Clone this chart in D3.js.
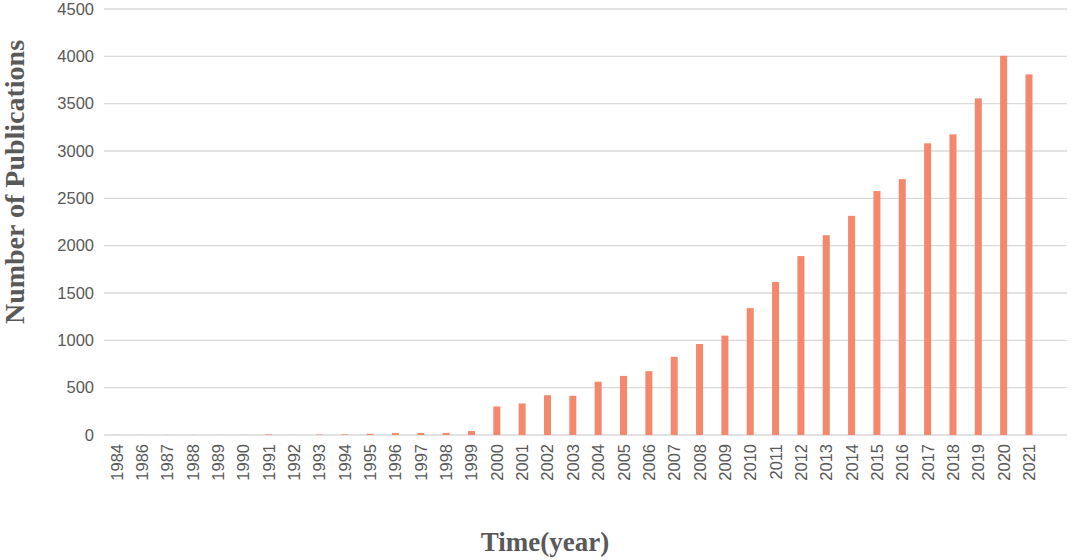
<!DOCTYPE html>
<html>
<head>
<meta charset="utf-8">
<script src="https://cdn.jsdelivr.net/npm/d3@7"></script>
<style>
  body { margin: 0; background: #fff; }
</style>
</head>
<body>
<div id="Barchart-div"></div>
<script>
// data
const years = ['1984', '1986', '1987', '1988', '1989', '1990', '1991', '1992', '1993', '1994',
  '1995', '1996', '1997', '1998', '1999', '2000', '2001', '2002', '2003', '2004',
  '2005', '2006', '2007', '2008', '2009', '2010', '2011', '2012', '2013', '2014',
  '2015', '2016', '2017', '2018', '2019', '2020', '2021'];
const publications = [1, 1, 1, 1, 1, 1, 6, 1, 5, 6,
  13, 20, 21, 22, 42, 301, 333, 420, 414, 563,
  624, 674, 826, 961, 1050, 1340, 1617, 1890, 2110, 2315,
  2577, 2703, 3081, 3176, 3556, 4006, 3809];
const yTicks = [0, 500, 1000, 1500, 2000, 2500, 3000, 3500, 4000, 4500];

const CHART_WIDTH = 1072;
const CHART_HEIGHT = 560;
const MARGIN = { left: 104, right: 5, top: 9, bottom: 125 };
const BAR_WIDTH = 7;

const data = years.map((y, i) => ({ year: y, value: publications[i] }));

const svg = d3.select('#Barchart-div')
  .append('svg')
  .attr('width', CHART_WIDTH)
  .attr('height', CHART_HEIGHT);

const plotRight = CHART_WIDTH - MARGIN.right;
const plotBottom = CHART_HEIGHT - MARGIN.bottom;

// one empty slot is left at the right end of the axis, like the original
const step = (plotRight - MARGIN.left) / (years.length + 1);

const xScale = d3.scaleBand()
  .domain(years)
  .range([MARGIN.left, MARGIN.left + step * years.length])
  .padding(0);

const yScale = d3.scaleLinear()
  .domain([0, 4500])
  .range([plotBottom, MARGIN.top]);

// gridlines
svg.append('g')
  .attr('id', 'grid')
  .selectAll('line')
  .data(yTicks)
  .join('line')
  .attr('x1', MARGIN.left)
  .attr('x2', plotRight)
  .attr('y1', d => yScale(d))
  .attr('y2', d => yScale(d))
  .attr('stroke', '#d9d9d9')
  .attr('stroke-width', 1.3);

// y axis labels
const yAxis = svg.append('g')
  .attr('id', 'Barchart-y-axis')
  .attr('transform', `translate(${MARGIN.left - 10},0)`)
  .call(d3.axisLeft(yScale).tickValues(yTicks).tickFormat(d3.format('d')).tickSize(0).tickPadding(0));
yAxis.select('.domain').remove();
yAxis.selectAll('text')
  .attr('fill', '#595959')
  .style('font', '16.5px "Liberation Sans", Arial, sans-serif');

// bars
svg.append('g')
  .attr('id', 'BarChart')
  .selectAll('rect')
  .data(data)
  .join('rect')
  .attr('x', d => xScale(d.year) + xScale.bandwidth() / 2 - BAR_WIDTH / 2)
  .attr('y', d => yScale(d.value))
  .attr('width', BAR_WIDTH)
  .attr('height', d => yScale(0) - yScale(d.value))
  .attr('fill', '#f3886d');

// x axis labels, rotated
const xAxis = svg.append('g')
  .attr('id', 'Barchart-x-axis')
  .attr('transform', `translate(0,${plotBottom})`)
  .call(d3.axisBottom(xScale).tickSize(0).tickPadding(0));
xAxis.select('.domain').remove();
xAxis.selectAll('text')
  .attr('fill', '#595959')
  .attr('text-anchor', 'end')
  .attr('dy', null)
  .attr('y', 0)
  .attr('dominant-baseline', 'central')
  .attr('transform', 'translate(0,9) rotate(-90)')
  .style('font', '16.5px "Liberation Sans", Arial, sans-serif');

// axis titles
svg.append('text')
  .attr('id', 'ylabel')
  .attr('transform', 'translate(24,182) rotate(-90)')
  .attr('text-anchor', 'middle')
  .attr('fill', '#595959')
  .style('font', 'bold 28px "Liberation Serif", "Times New Roman", serif')
  .text('Number of Publications');

svg.append('text')
  .attr('id', 'xlabel')
  .attr('x', 545)
  .attr('y', 551)
  .attr('text-anchor', 'middle')
  .attr('fill', '#595959')
  .style('font', 'bold 27px "Liberation Serif", "Times New Roman", serif')
  .text('Time(year)');
</script>
</body>
</html>
